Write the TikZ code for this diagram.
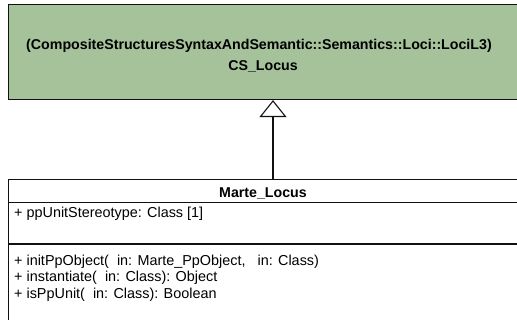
\documentclass[tikz,border=0pt]{standalone}
\usepackage{fontspec}
\setmainfont{Liberation Sans}
\usetikzlibrary{arrows.meta,positioning}
\definecolor{umlgreen}{HTML}{A5C29A}
\definecolor{umlline}{HTML}{111111}

\begin{document}
\begin{tikzpicture}[x=1pt,y=-1pt,
    font=\fontsize{14.4}{17}\selectfont,
    classbox/.style={draw=umlline,line width=1.1pt,rectangle,anchor=north west,inner sep=0pt},
    classname/.style={font=\fontsize{14.2}{17}\selectfont\bfseries,inner sep=0pt,anchor=base},
    member/.style={anchor=base west,inner sep=0pt},
    >={Triangle[open,length=17pt,width=27pt]}]

  \useasboundingbox (0,0) rectangle (517,320);
  \clip (0,0) rectangle (517,320);

  % --- the general class, seen from outside its package
  \node[classbox,fill=umlgreen,minimum width=530pt,minimum height=95pt] (base) at (8,4) {};
  \node[classname] (basepkg) at (259,50)
       {(CompositeStructuresSyntaxAndSemantic::Semantics::Loci::LociL3)};
  \node[classname] (basename) at (263,71) {CS\_Locus};

  % --- the MARTE class with its attributes and operations
  \node[classbox,fill=white,minimum width=530pt,minimum height=160pt] (locus) at (8,179) {};
  \coordinate (hdr) at (8,202.5);
  \coordinate (sep) at (8,244);
  \draw[umlline,line width=1.1pt] (hdr) -- ++(530,0);
  \draw[umlline,line width=1.1pt] (sep) -- ++(530,0);
  \node[classname] (locusname) at (263,198) {Marte\_Locus};

  \node[member] (attr) at (14,218) {+ ppUnitStereotype: Class [1]};
  \node[member] (op1) at (14,265.5) {+ initPpObject(\ \ in: Marte\_PpObject,\ \ \ in: Class)};
  \node[member] (op2) at (14,281.5) {+ instantiate(\ \ in: Class): Object};
  \node[member] (op3) at (14,298.5) {+ isPpUnit(\ \ in: Class): Boolean};

  % --- generalization
  \draw[->,umlline,line width=1.1pt] (locus.north -| 273,0) -- (base.south -| 273,0);
\end{tikzpicture}
\end{document}
